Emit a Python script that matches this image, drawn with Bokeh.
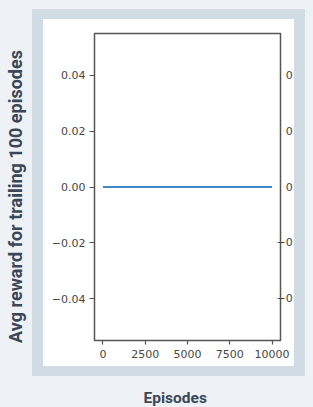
from math import pi
from bokeh.plotting import figure
from bokeh.models import (Range1d, FixedTicker, LinearAxis, Label, InlineStyleSheet)
from bokeh.embed import file_html
from bokeh.resources import INLINE

# ---- data ----
episodes = [0, 2500, 5000, 7500, 10000]
avg_reward = [0.0, 0.0, 0.0, 0.0, 0.0]
x_ticks = [0, 2500, 5000, 7500, 10000]
x_tick_labels = ["0", "2500", "5000", "7500", "10000"]
y_ticks = [-0.04, -0.02, 0.0, 0.02, 0.04]
y_tick_labels = ["\u22120.04", "\u22120.02", "0.00", "0.02", "0.04"]
x_title = "Episodes"
y_title = "Avg reward for trailing 100 episodes"

# ---- styles ----
PAGE = "#eef2f6"
BAND = "#d0dbe4"
SPINE = "#555555"
TICK_TEXT = "#474747"
TITLE = "#3b4757"

p = figure(width=313, height=407, output_backend="svg", toolbar_location=None,
           x_range=Range1d(-500, 10500), y_range=Range1d(-0.055, 0.055),
           min_border_left=94, min_border_right=33, min_border_top=33,
           min_border_bottom=67)
p.background_fill_color = "white"
p.border_fill_color = PAGE
p.border_fill_alpha = 0
p.outline_line_color = SPINE
p.outline_line_width = 1.5
p.xgrid.grid_line_color = None
p.ygrid.grid_line_color = None

# card frame drawn with CSS behind / over the transparent canvas border
p.stylesheets = [InlineStyleSheet(css=f"""
:host {{ position: relative; isolation: isolate; background: {PAGE}; }}
:host::before {{ content: ""; position: absolute; box-sizing: border-box;
  left: 32px; top: 9px; width: 273px; height: 367px; background: #ffffff;
  border-style: solid; border-color: {BAND}; border-width: 10px 11px 10px 11px;
  z-index: -1; pointer-events: none; }}
:host::after {{ content: ""; position: absolute; box-sizing: border-box;
  left: 294px; top: 9px; width: 19px; height: 367px; background: {BAND};
  border-right: 8px solid {PAGE}; z-index: 100; pointer-events: none; }}
""")]

right_axis = LinearAxis()
p.add_layout(right_axis, "right")

for ax in (p.xaxis[0], p.yaxis[0], right_axis):
    ax.axis_line_color = None
    ax.major_tick_in = 0
    ax.minor_tick_line_color = None
    ax.major_tick_line_color = SPINE
    ax.major_tick_line_width = 1.2
    ax.major_label_text_font = "DejaVu Sans"
    ax.major_label_text_font_size = "11px"
    ax.major_label_text_color = TICK_TEXT

p.xaxis.ticker = FixedTicker(ticks=x_ticks)
p.xaxis.major_label_overrides = dict(zip(x_ticks, x_tick_labels))
p.xaxis.major_tick_out = 4
p.xaxis.major_label_standoff = 5
p.yaxis.ticker = FixedTicker(ticks=y_ticks)
p.yaxis.major_label_overrides = dict(zip(y_ticks, y_tick_labels))
p.yaxis.major_tick_out = 5
p.yaxis.major_label_standoff = 4

# duplicate right-hand labels, right-aligned like the left ones (padding the
# positive ones to the width of the minus sign) and cut by the card frame
right_axis.ticker = FixedTicker(ticks=y_ticks)
right_axis.major_label_overrides = {
    t: (lab if lab.startswith("\u2212") else "\u2007\u2009" + lab)
    for t, lab in zip(y_ticks, y_tick_labels)}
right_axis.major_tick_out = 0
right_axis.major_tick_line_color = None
right_axis.major_label_standoff = -4

p.line(episodes, avg_reward, line_color="#3f87c5", line_width=2)

# axis titles, placed in the side panels so they are not clipped to the frame
p.add_layout(Label(x=15, y=196, x_units="canvas", y_units="canvas", text=y_title,
                   angle=pi / 2, text_align="center", text_baseline="alphabetic",
                   text_font="Roboto", text_font_style="bold",
                   text_font_size="18px", text_color=TITLE), "left")
p.add_layout(Label(x=174.7, y=397, x_units="canvas", y_units="canvas", text=x_title,
                   text_align="center", text_baseline="alphabetic",
                   text_font="Roboto", text_font_style="bold",
                   text_font_size="15.5px", text_color=TITLE), "below")

open("out.html", "w").write(file_html(p, INLINE))
